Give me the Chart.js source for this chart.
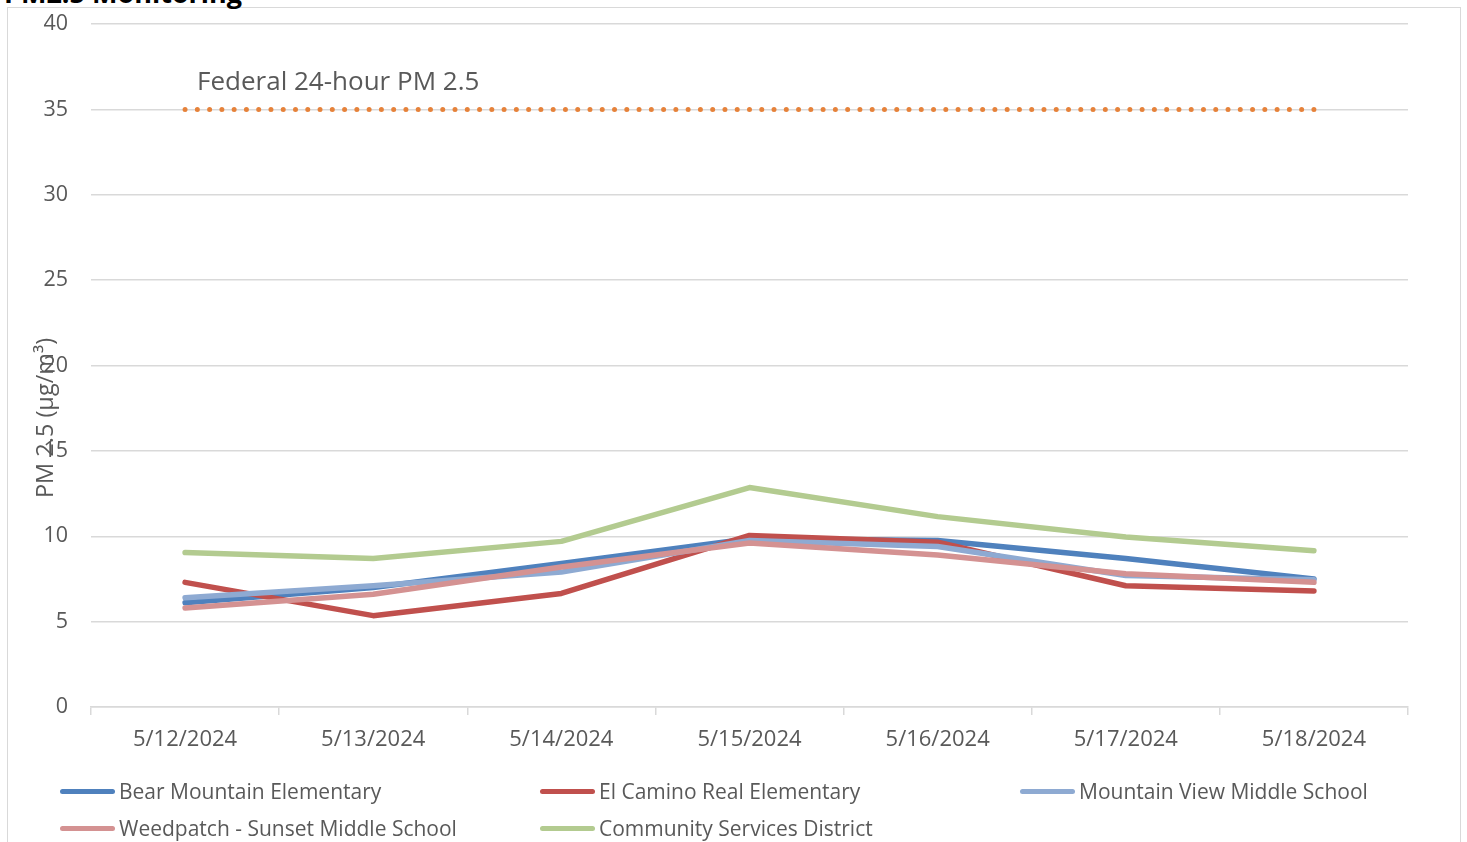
<!DOCTYPE html>
<html>
<head>
<meta charset="utf-8">
<script src="https://cdn.jsdelivr.net/npm/chart.js@4"></script>
<style>
    html, body { margin: 0; padding: 0; background: #fff; overflow: hidden; }
    body { width: 1467px; height: 842px; position: relative; font-family: "Open Sans", sans-serif; }
    #frame { position: absolute; left: 7px; top: 7px; width: 1454px; height: 850px; border: 1.5px solid #d9d9d9; box-sizing: border-box; }
    #title { position: absolute; left: 4px; top: -26px; font: bold 27px "Open Sans", sans-serif; color: #000; white-space: nowrap; }
    #wrap { position: absolute; left: 0; top: 0; width: 1467px; height: 842px; }
    .leg { position: absolute; display: flex; align-items: center; font-size: 21px; color: #595959; white-space: nowrap; }
    .leg span.swatch { display: inline-block; width: 55px; height: 5px; border-radius: 3px; margin-right: 4px; }
</style>
</head>
<body>
<div id="frame"></div>
<div id="title">PM2.5 Monitoring</div>
<div id="wrap"><canvas id="pmChart" width="1467" height="842"></canvas></div>
<div id="legend"></div>
<script>
const dates = ['5/12/2024', '5/13/2024', '5/14/2024', '5/15/2024', '5/16/2024', '5/17/2024', '5/18/2024'];
const bearMountain = [6.1, 7.0, 8.4, 9.85, 9.75, 8.7, 7.5];
const elCamino = [7.3, 5.35, 6.65, 10.05, 9.65, 7.1, 6.8];
const mountainView = [6.4, 7.1, 7.9, 9.75, 9.4, 7.7, 7.45];
const weedpatch = [5.8, 6.6, 8.2, 9.6, 8.9, 7.8, 7.3];
const communityServices = [9.05, 8.7, 9.7, 12.85, 11.15, 9.95, 9.15];
const federalStandard = [35, 35, 35, 35, 35, 35, 35];
const yTicks = [0, 5, 10, 15, 20, 25, 30, 35, 40];

const seriesInfo = [
    { label: 'Bear Mountain Elementary', data: bearMountain, color: '#4f81bd' },
    { label: 'El Camino Real Elementary', data: elCamino, color: '#c0504d' },
    { label: 'Mountain View Middle School', data: mountainView, color: '#8eaad2' },
    { label: 'Weedpatch - Sunset Middle School', data: weedpatch, color: '#d49292' },
    { label: 'Community Services District', data: communityServices, color: '#b3cb90' }
];

// extra text: federal line label and rotated axis title
const extraText = {
    id: 'extraText',
    afterDatasetsDraw(chart) {
        const ctx = chart.ctx;
        const x = chart.scales.x;
        const y = chart.scales.y;
        ctx.save();
        ctx.fillStyle = '#595959';
        ctx.font = '26px "Open Sans", sans-serif';
        ctx.textBaseline = 'middle';
        ctx.fillText('Federal 24-hour PM 2.5', x.getPixelForValue(0) + 12, y.getPixelForValue(federalStandard[0]) - 27);

        ctx.translate(46, 418);
        ctx.rotate(-Math.PI / 2);
        ctx.textAlign = 'center';
        ctx.font = '23.5px "Open Sans", sans-serif';
        ctx.fillText('PM 2.5 (µg/m³)', 0, 0);
        ctx.restore();
    }
};

const datasets = seriesInfo.map((s, i) => ({
    label: s.label,
    data: s.data,
    borderColor: s.color,
    backgroundColor: s.color,
    borderWidth: 5.5,
    pointRadius: 0,
    borderCapStyle: 'round',
    borderJoinStyle: 'round',
    tension: 0,
    order: 10 - i
}));
datasets.push({
    label: 'Federal 24-hour PM 2.5',
    data: federalStandard,
    borderColor: '#e6823a',
    borderWidth: 5,
    borderDash: [0, 12.27],
    borderCapStyle: 'round',
    pointRadius: 0,
    order: 0
});

new Chart(document.getElementById('pmChart').getContext('2d'), {
    type: 'line',
    data: { labels: dates, datasets: datasets },
    options: {
        responsive: false,
        animation: false,
        layout: { padding: { left: 0, right: 59, top: 24, bottom: 75 } },
        plugins: {
            legend: { display: false },
            tooltip: { enabled: false }
        },
        scales: {
            x: {
                offset: true,
                grid: { offset: true, drawOnChartArea: false, drawTicks: true, tickLength: 8, color: '#d9d9d9', lineWidth: 1.5 },
                border: { display: true, color: '#d9d9d9', width: 1.5 },
                ticks: { color: '#595959', font: { family: '"Open Sans", sans-serif', size: 22 }, padding: 12, maxRotation: 0 },
                afterFit(scale) { scale.height = 60; }
            },
            y: {
                min: 0,
                max: 40,
                afterBuildTicks(scale) { scale.ticks = yTicks.map(v => ({ value: v })); },
                grid: { drawTicks: true, tickLength: 20, tickColor: 'rgba(0,0,0,0)', color: '#d9d9d9', lineWidth: 1.5 },
                border: { display: false },
                ticks: { color: '#595959', font: { family: '"Open Sans", sans-serif', size: 21.5 }, padding: 3 },
                afterFit(scale) { scale.width = 91; }
            }
        }
    },
    plugins: [extraText]
});

// legend laid out in three columns like the original
const legend = document.getElementById('legend');
const colX = [60, 540, 1020];
const rowY = [792, 829];
seriesInfo.forEach((s, i) => {
    const item = document.createElement('div');
    item.className = 'leg';
    item.style.left = colX[i % 3] + 'px';
    item.style.top = (rowY[Math.floor(i / 3)] - 15) + 'px';
    item.innerHTML = '<span class="swatch" style="background:' + s.color + '"></span>' + s.label;
    legend.appendChild(item);
});
</script>
</body>
</html>
